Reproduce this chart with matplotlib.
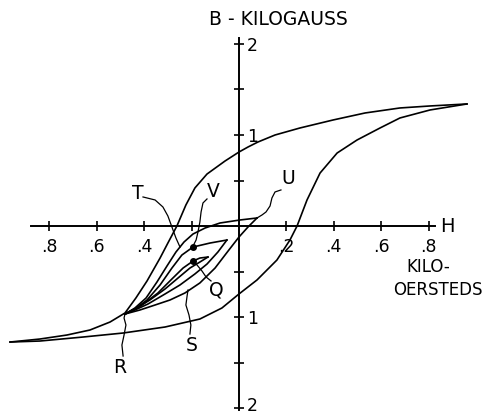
import matplotlib
matplotlib.use('Agg')
import matplotlib.pyplot as plt
import matplotlib.transforms as mtransforms
import numpy as np

# major loop (H in kilo-oersteds, B in kilogauss)
H_down = [0.962, 0.806, 0.679, 0.532, 0.397, 0.257, 0.152, 0.080, 0.038, 0.0, -0.059, -0.135, -0.186, -0.224,
          -0.262, -0.300, -0.333, -0.388, -0.435, -0.481, -0.544, -0.629, -0.726, -0.840, -0.966]
B_down = [1.341, 1.319, 1.297, 1.242, 1.165, 1.077, 1.000, 0.923, 0.868, 0.813, 0.714, 0.571, 0.418, 0.231,
          0.0, -0.187, -0.352, -0.604, -0.791, -0.956, -1.055, -1.143, -1.198, -1.242, -1.275]
H_up = [-0.966, -0.840, -0.658, -0.489, -0.312, -0.165, -0.072, 0.0, 0.076, 0.160, 0.215, 0.245, 0.287, 0.342,
        0.414, 0.498, 0.595, 0.679, 0.806, 0.962]
B_up = [-1.275, -1.264, -1.220, -1.176, -1.110, -1.022, -0.901, -0.747, -0.593, -0.374, -0.154, 0.0, 0.286, 0.582,
        0.802, 0.945, 1.077, 1.187, 1.275, 1.341]

# minor loop R -> U (lower branch S) and U -> R (upper branch T)
H_T = [0.076, 0.004, -0.080, -0.143, -0.194, -0.232, -0.266, -0.304, -0.346, -0.392, -0.439, -0.481]
B_T = [0.088, 0.066, 0.033, -0.022, -0.088, -0.176, -0.286, -0.440, -0.615, -0.791, -0.901, -0.967]
H_S = [-0.481, -0.418, -0.354, -0.291, -0.228, -0.165, -0.101, -0.046, 0.0, 0.038, 0.076]
B_S = [-0.967, -0.923, -0.868, -0.813, -0.736, -0.626, -0.462, -0.275, -0.121, -0.011, 0.088]

# second minor loop (through V)
H_V1 = [-0.051, -0.122, -0.194, -0.241, -0.283, -0.333, -0.388, -0.439, -0.481]
B_V1 = [-0.154, -0.187, -0.231, -0.319, -0.462, -0.648, -0.813, -0.912, -0.967]
H_V2 = [-0.481, -0.439, -0.384, -0.312, -0.249, -0.186, -0.135, -0.089, -0.051]
B_V2 = [-0.967, -0.923, -0.857, -0.747, -0.648, -0.527, -0.418, -0.286, -0.154]

# smallest loop (through Q)
H_Q1 = [-0.131, -0.165, -0.194, -0.236, -0.283, -0.342, -0.409, -0.481]
B_Q1 = [-0.341, -0.352, -0.385, -0.462, -0.582, -0.736, -0.868, -0.967]
H_Q2 = [-0.481, -0.439, -0.376, -0.312, -0.257, -0.207, -0.165, -0.131]
B_Q2 = [-0.967, -0.912, -0.813, -0.692, -0.571, -0.462, -0.396, -0.341]

dots_H = [-0.194, -0.194]   # V, Q
dots_B = [-0.228, -0.385]

# letters and their leader lines
labels = ['T', 'V', 'U', 'Q', 'S', 'R']
label_H = [-0.426, -0.110, 0.207, -0.097, -0.198, -0.502]
label_B = [0.352, 0.374, 0.527, -0.703, -1.308, -1.560]
leaders = [
    ([-0.405, -0.354, -0.321, -0.300, -0.283, -0.266, -0.249], [0.319, 0.286, 0.209, 0.110, -0.011, -0.132, -0.231]),
    ([-0.135, -0.152, -0.160, -0.165, -0.173, -0.181, -0.194], [0.297, 0.253, 0.154, 0.044, -0.066, -0.154, -0.220]),
    ([0.177, 0.152, 0.139, 0.131, 0.114, 0.097, 0.076], [0.396, 0.374, 0.308, 0.220, 0.154, 0.121, 0.088]),
    ([-0.118, -0.139, -0.156, -0.177, -0.194], [-0.604, -0.560, -0.495, -0.429, -0.385]),
    ([-0.207, -0.203, -0.211, -0.224, -0.219, -0.215], [-1.187, -1.088, -0.978, -0.868, -0.769, -0.703]),
    ([-0.489, -0.494, -0.485, -0.477, -0.485, -0.481], [-1.429, -1.308, -1.198, -1.088, -1.011, -0.967]),
]

xticks = [-0.8, -0.6, -0.4, -0.2, 0.2, 0.4, 0.6, 0.8]
xticklabels = ['.8', '.6', '.4', '', '.2', '.4', '.6', '.8']
yticks = [-2, -1.5, -1, -0.5, 0.5, 1, 1.5, 2]
yticklabels = ['2', '', '1', '', '', '1', '', '2']

plt.rcParams['font.family'] = 'DejaVu Sans'
fig = plt.figure(figsize=(4.9, 4.15), dpi=100)
ax = fig.add_axes([0, 0, 1, 1])
ax.set_xlim(-1.0084, 1.0591)
ax.set_ylim(-2.0769, 2.4835)

# axes crossing at the origin
for s in ['top', 'left']:
    ax.spines[s].set_visible(False)
ax.spines['bottom'].set_position(('data', 0))
ax.spines['right'].set_position(('data', 0))
ax.spines['bottom'].set_bounds(-0.878, 0.827)
ax.spines['right'].set_bounds(-2.02, 2.07)
ax.spines['bottom'].set_linewidth(1.4)
ax.spines['right'].set_linewidth(1.4)
ax.xaxis.set_ticks_position('bottom')
ax.yaxis.set_ticks_position('right')
ax.set_xticks(xticks)
ax.set_xticklabels(xticklabels)
ax.set_yticks(yticks)
ax.set_yticklabels(yticklabels)
ax.tick_params(axis='x', direction='inout', length=7, width=1.2, pad=5, labelsize=12.5)
ax.tick_params(axis='y', direction='inout', length=7, width=1.2, pad=2, labelsize=12.5)
# bottom "2" sits at the very edge; nudge it up a little so it stays inside
lab = ax.get_yticklabels()[0]
lab.set_transform(lab.get_transform() + mtransforms.ScaledTranslation(0, 3 / 72, fig.dpi_scale_trans))

lw = 1.2
ax.plot(H_down, B_down, color='black', lw=lw)
ax.plot(H_up, B_up, color='black', lw=lw)
ax.plot(H_T, B_T, color='black', lw=lw)
ax.plot(H_S, B_S, color='black', lw=lw)
ax.plot(H_V1, B_V1, color='black', lw=lw)
ax.plot(H_V2, B_V2, color='black', lw=lw)
ax.plot(H_Q1, B_Q1, color='black', lw=lw)
ax.plot(H_Q2, B_Q2, color='black', lw=lw)
ax.plot(dots_H, dots_B, 'o', color='black', ms=4)

for (lx, ly) in leaders:
    ax.plot(lx, ly, color='black', lw=0.9)
for t, x, y in zip(labels, label_H, label_B):
    ax.text(x, y, t, fontsize=13.5, ha='center', va='center')

ax.text(0.165, 2.264, 'B - KILOGAUSS', fontsize=13.5, ha='center', va='center')
ax.text(0.878, 0.0, 'H', fontsize=14, ha='center', va='center')
ax.text(0.797, -0.451, 'KILO-', fontsize=12, ha='center', va='center')
ax.text(0.840, -0.703, 'OERSTEDS', fontsize=12, ha='center', va='center')

plt.savefig('out.png', dpi=100)
